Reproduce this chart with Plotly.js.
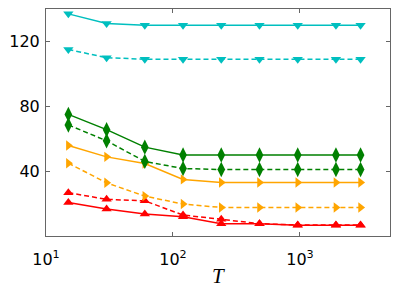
<!DOCTYPE html>
<html>
<head>
<meta charset="utf-8">
<script src="https://cdn.plot.ly/plotly-3.0.1.min.js"></script>
<style>html,body{margin:0;padding:0;background:#fff;}#chart{width:399px;height:299px;}</style>
</head>
<body>
<div id="chart"></div>
<script>
const T = [15, 30, 60, 120, 240, 480, 960, 1920, 3000];
const cyanSolid  = [137, 131, 130, 130, 130, 130, 130, 130, 130];
const cyanDash   = [115, 110, 109, 109, 109, 109, 109, 109, 109];
const greenSolid = [75, 65.6, 54.8, 50, 50, 50, 50, 50, 50];
const greenDash  = [68.5, 58.7, 46, 41.6, 41, 41, 41, 41, 41];
const orangeSolid= [55.8, 48.8, 44.7, 34.9, 33, 33, 33, 33, 33];
const orangeDash = [44.9, 32.8, 24.6, 19.7, 17.6, 17.6, 17.6, 17.6, 17.6];
const redSolid   = [20.7, 16.6, 13.5, 11.9, 7.6, 7.5, 6.6, 6.6, 6.6];
const redDash    = [26.7, 22.6, 21.7, 12.9, 10.3, 7.6, 6.8, 6.8, 6.8];
const xTickVals = [10, 100, 1000];
const xTickText = ['10<sup>1</sup>', '10<sup>2</sup>', '10<sup>3</sup>'];
const yTickVals = [40, 80, 120];
const xTitle = '<i>T</i>';

function tr(y, color, dash, symbol, size) {
  return {
    x: T, y: y, type: 'scatter', mode: 'lines+markers',
    line: {color: color, width: 1.5, dash: dash},
    marker: {color: color, symbol: symbol, size: size, line: {width: 0}},
    showlegend: false, hoverinfo: 'none'
  };
}
const data = [
  tr(redSolid, '#ff0000', 'solid', 'triangle-up', 9),
  tr(redDash, '#ff0000', '5px,3px', 'triangle-up', 9),
  tr(orangeSolid, '#ffa500', 'solid', 'triangle-right', 9),
  tr(orangeDash, '#ffa500', '5px,3px', 'triangle-right', 9),
  tr(greenSolid, '#008000', 'solid', 'diamond-tall', 11),
  tr(greenDash, '#008000', '5px,3px', 'diamond-tall', 11),
  tr(cyanSolid, '#00bfbf', 'solid', 'triangle-down', 9),
  tr(cyanDash, '#00bfbf', '5px,3px', 'triangle-down', 9)
];
const axisCommon = {
  showgrid: false, zeroline: false, showline: true, linecolor: '#666', linewidth: 1,
  mirror: 'ticks', ticks: 'inside', ticklen: 4, tickcolor: '#666',
  tickfont: {family: 'DejaVu Sans', size: 16, color: '#000'}
};
const layout = {
  width: 399, height: 299,
  margin: {l: 46, r: 9, t: 9, b: 63},
  paper_bgcolor: '#fff', plot_bgcolor: '#fff',
  xaxis: Object.assign({}, axisCommon, {
    type: 'log', range: [1, 3.709],
    tickmode: 'array', tickvals: xTickVals, ticktext: xTickText,
    ticklabelstandoff: 9
  }),
  yaxis: Object.assign({}, axisCommon, {
    range: [0, 140], tickmode: 'array', tickvals: yTickVals, ticklabelstandoff: 2
  }),
  annotations: [{
    text: xTitle, xref: 'paper', yref: 'paper', x: 0.5, y: -0.176,
    xanchor: 'center', yanchor: 'middle', showarrow: false,
    font: {family: 'Liberation Serif', size: 21, color: '#000'}
  }]
};
Plotly.newPlot('chart', data, layout, {displayModeBar: false, staticPlot: true});
</script>
</body>
</html>
